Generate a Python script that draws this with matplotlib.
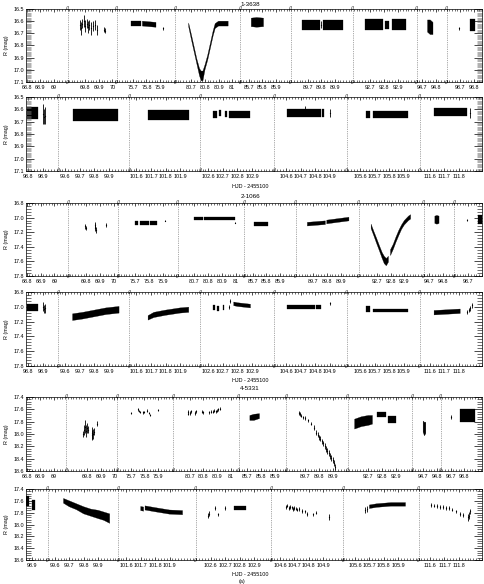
import numpy as np
import matplotlib
matplotlib.use('Agg')
import matplotlib.pyplot as plt
from matplotlib.ticker import MultipleLocator

plt.rcParams['font.family'] = ['Liberation Sans', 'DejaVu Sans']
nan = np.nan

# ---------------- titles / labels ----------------
TITLES = ['1-3638', '2-1066', '4-5331']
XLABEL = 'HJD - 2455100'
YLABEL = 'R (mag)'

# ---------------- segments (x-limits of the broken axes) and tick labels ----------------
SEG_1A = [(68.795, 69.10), (69.67, 70.03), (75.58, 76.01), (80.58, 81.06), (85.64, 86.01),
          (89.575, 90.03), (92.57, 93.04), (94.66, 94.88), (98.60, 98.86)]
TICK_1A = [[68.8, 68.9, 69.0], [69.8, 69.9, 70.0], [75.7, 75.8, 75.9], [80.7, 80.8, 80.9, 81.0],
           [85.7, 85.8, 85.9], [89.7, 89.8, 89.9], [92.7, 92.8, 92.9], [94.7, 94.8], [98.7, 98.8]]
SEG_1B = [(98.786, 99.007), (99.55, 100.04), (101.55, 102.04), (102.545, 103.055),
          (104.52, 105.02), (105.51, 106.01), (111.53, 111.96)]
TICK_1B = [[98.8, 98.9], [99.6, 99.7, 99.8, 99.9], [101.6, 101.7, 101.8, 101.9],
           [102.6, 102.7, 102.8, 102.9], [104.6, 104.7, 104.8, 104.9],
           [105.6, 105.7, 105.8, 105.9], [111.6, 111.7, 111.8]]
SEG_2A = SEG_1A[:-1] + [(98.60, 98.80)]
TICK_2A = TICK_1A[:-1] + [[98.7]]
SEG_2B = SEG_1B
TICK_2B = TICK_1B
SEG_4A = [(68.795, 69.09), (69.65, 70.02), (75.60, 76.01), (80.58, 81.06), (85.64, 85.985),
          (89.56, 90.01), (92.55, 93.02), (94.62, 94.83), (98.63, 98.93)]
TICK_4A = TICK_1A
SEG_4B = [(98.86, 99.01), (99.55, 100.04), (101.545, 102.08), (102.495, 103.02),
          (104.54, 105.04), (105.52, 106.04), (111.52, 111.96)]
TICK_4B = [[98.9]] + TICK_1B[1:]

YLIM = [(16.5, 17.1), (16.8, 17.8), (17.4, 18.6)]
YMAJ = [0.1, 0.2, 0.2]
YMIN = [0.01, 0.04, 0.04]

# ---------------- data: dense bands (time, centre mag, half-spread), NaN splits clusters --------
# star 1-3638, first row
T_1A = [75.69, 75.75, 75.76, nan, 75.77, 75.82, 75.87, nan,
        80.68, 80.70, 80.72, 80.74, 80.76, 80.772, 80.785, 80.80, 80.82, 80.84, 80.86, 80.875,
        80.90, 80.93, 80.97, nan,
        85.72, 85.76, 85.81, nan, 89.66, 89.72, 89.79, nan, 89.81, 89.90, 89.96, nan,
        92.66, 92.75, 92.79, nan, 92.81, 92.84, nan, 92.86, 92.92, 92.96, nan,
        94.74, 94.76, 94.78, nan, 98.77, 98.79, 98.81]
M_1A = [16.62, 16.62, 16.62, nan, 16.62, 16.625, 16.63, nan,
        16.63, 16.73, 16.83, 16.93, 17.02, 17.05, 17.05, 16.98, 16.90, 16.80, 16.70, 16.64,
        16.62, 16.62, 16.62, nan,
        16.61, 16.61, 16.61, nan, 16.63, 16.63, 16.63, nan, 16.63, 16.63, 16.63, nan,
        16.63, 16.63, 16.63, nan, 16.63, 16.63, nan, 16.63, 16.63, 16.63, nan,
        16.64, 16.65, 16.66, nan, 16.63, 16.63, 16.63]
E_1A = [0.02, 0.02, 0.02, nan, 0.02, 0.02, 0.02, nan,
        0.015, 0.02, 0.02, 0.02, 0.03, 0.04, 0.04, 0.02, 0.02, 0.02, 0.02, 0.02,
        0.02, 0.02, 0.02, nan,
        0.035, 0.04, 0.035, nan, 0.04, 0.04, 0.04, nan, 0.04, 0.04, 0.04, nan,
        0.045, 0.045, 0.045, nan, 0.035, 0.035, nan, 0.045, 0.045, 0.045, nan,
        0.05, 0.06, 0.05, nan, 0.05, 0.05, 0.05]
PT_1A = [69.76, 69.77, 69.78, 69.79, 69.80, 69.81, 69.82, 69.83, 69.845, 69.855, 69.87, 69.885,
         69.94, 69.945, 75.92, 89.80, 98.69]
PM_1A = [16.63, 16.66, 16.62, 16.60, 16.64, 16.62, 16.65, 16.63, 16.66, 16.64, 16.63, 16.67,
         16.67, 16.68, 16.66, 16.63, 16.66]
PE_1A = [0.04, 0.05, 0.04, 0.05, 0.05, 0.04, 0.05, 0.04, 0.05, 0.04, 0.04, 0.04,
         0.02, 0.02, 0.01, 0.03, 0.01]

# star 1-3638, second row
T_1B = [98.79, 98.83, 98.87, nan, 99.65, 99.75, 99.85, 99.96, nan, 101.68, 101.80, 101.96, nan,
        102.635, 102.66, nan, 102.67, 102.69, nan, 102.715, 102.73, nan, 102.745, 102.80, 102.89, nan,
        104.61, 104.70, 104.80, 104.84, nan, 104.845, 104.86, nan,
        105.64, 105.67, nan, 105.69, 105.80, 105.93, nan, 111.63, 111.75, 111.86]
M_1B = [16.63, 16.63, 16.63, nan, 16.645, 16.645, 16.645, 16.645, nan, 16.645, 16.645, 16.645, nan,
        16.64, 16.64, nan, 16.63, 16.63, nan, 16.64, 16.64, nan, 16.64, 16.64, 16.64, nan,
        16.63, 16.63, 16.63, 16.63, nan, 16.63, 16.63, nan,
        16.64, 16.64, nan, 16.64, 16.64, 16.64, nan, 16.62, 16.62, 16.62]
E_1B = [0.05, 0.05, 0.05, nan, 0.05, 0.05, 0.05, 0.05, nan, 0.04, 0.04, 0.04, nan,
        0.03, 0.03, nan, 0.025, 0.025, nan, 0.025, 0.025, nan, 0.03, 0.03, 0.03, nan,
        0.03, 0.03, 0.03, 0.03, nan, 0.03, 0.03, nan,
        0.03, 0.03, nan, 0.03, 0.03, 0.03, nan, 0.03, 0.03, 0.03]
PT_1B = [98.905, 98.91, 98.915, 104.73, 104.90, 111.875]
PM_1B = [16.64, 16.66, 16.65, 16.60, 16.63, 16.63]
PE_1B = [0.08, 0.06, 0.07, 0.03, 0.03, 0.04]

# star 2-1066, first row
T_2A = [75.70, 75.72, nan, 75.735, 75.80, nan, 75.81, 75.86, nan,
        80.70, 80.76, nan, 80.77, 80.99, nan, 85.71, 85.76, 85.81, nan,
        89.66, 89.79, nan, 89.80, 89.96, nan,
        92.66, 92.68, 92.70, 92.72, 92.74, 92.755, 92.77, 92.785, nan,
        92.80, 92.82, 92.84, 92.86, 92.88, 92.90, 92.93, 92.945, nan,
        94.74, 94.755, 94.77, nan, 98.77, 98.785, 98.80]
M_2A = [17.07, 17.07, nan, 17.07, 17.07, nan, 17.07, 17.07, nan,
        17.01, 17.01, nan, 17.01, 17.01, nan, 17.09, 17.09, 17.09, nan,
        17.09, 17.07, nan, 17.06, 17.02, nan,
        17.12, 17.22, 17.32, 17.42, 17.52, 17.58, 17.61, 17.57, nan,
        17.48, 17.40, 17.30, 17.21, 17.13, 17.07, 17.01, 16.99, nan,
        17.03, 17.03, 17.03, nan, 17.03, 17.03, 17.03]
E_2A = [0.025, 0.025, nan, 0.025, 0.025, nan, 0.025, 0.025, nan,
        0.025, 0.025, nan, 0.025, 0.025, nan, 0.025, 0.025, 0.025, nan,
        0.025, 0.025, nan, 0.025, 0.025, nan,
        0.03, 0.03, 0.035, 0.035, 0.04, 0.05, 0.05, 0.04, nan,
        0.04, 0.035, 0.035, 0.035, 0.03, 0.03, 0.03, 0.03, nan,
        0.05, 0.06, 0.05, nan, 0.06, 0.06, 0.06]
PT_2A = [69.79, 69.795, 69.86, 69.865, 69.87, 69.94, 75.92, 80.99, 98.69]
PM_2A = [17.12, 17.14, 17.10, 17.14, 17.17, 17.10, 17.04, 17.07, 17.03]
PE_2A = [0.03, 0.03, 0.04, 0.05, 0.04, 0.03, 0.01, 0.01, 0.015]

# star 2-1066, second row
T_2B = [98.79, 98.83, 98.87, nan, 99.65, 99.72, 99.80, 99.88, 99.97, nan,
        101.68, 101.72, 101.80, 101.90, 101.96, nan,
        102.63, 102.645, nan, 102.66, 102.675, nan, 102.70, 102.71, nan, 102.775, 102.80, 102.89, nan,
        104.61, 104.75, 104.80, nan, 104.81, 104.84, nan,
        105.64, 105.67, nan, 105.69, 105.80, 105.93, nan, 111.63, 111.72, 111.81]
M_2B = [17.01, 17.01, 17.01, nan, 17.14, 17.12, 17.09, 17.06, 17.04, nan,
        17.15, 17.11, 17.08, 17.05, 17.04, nan,
        17.01, 17.01, nan, 17.02, 17.02, nan, 17.01, 17.01, nan, 16.96, 16.97, 16.99, nan,
        17.00, 17.00, 17.00, nan, 17.00, 17.00, nan,
        17.03, 17.03, nan, 17.05, 17.05, 17.05, nan, 17.08, 17.07, 17.06]
E_2B = [0.05, 0.05, 0.05, nan, 0.045, 0.045, 0.045, 0.045, 0.045, nan,
        0.03, 0.035, 0.035, 0.035, 0.035, nan,
        0.03, 0.03, nan, 0.03, 0.03, nan, 0.03, 0.03, nan, 0.025, 0.025, 0.025, nan,
        0.025, 0.025, 0.025, nan, 0.025, 0.025, nan,
        0.04, 0.04, nan, 0.025, 0.025, 0.025, nan, 0.03, 0.03, 0.03]
PT_2B = [98.905, 98.91, 98.915, 102.745, 102.75, 104.90, 111.86, 111.87, 111.88, 111.89]
PM_2B = [17.00, 17.03, 17.02, 17.00, 16.92, 16.95, 17.07, 17.04, 17.02, 16.98]
PE_2B = [0.06, 0.06, 0.06, 0.03, 0.03, 0.02, 0.03, 0.03, 0.03, 0.03]

# star 4-5331, first row
T_4A = [85.72, 85.75, 85.79, nan,
        92.60, 92.65, 92.70, 92.73, nan, 92.76, 92.79, 92.83, nan, 92.84, 92.87, 92.90, nan,
        94.70, 94.71, 94.72, nan, 98.77, 98.80, 98.83, 98.86, 98.88]
M_4A = [17.74, 17.73, 17.71, nan,
        17.84, 17.80, 17.78, 17.77, nan, 17.68, 17.68, 17.68, nan, 17.76, 17.76, 17.76, nan,
        17.88, 17.92, 17.90, nan, 17.70, 17.70, 17.70, 17.70, 17.70]
E_4A = [0.04, 0.05, 0.04, nan,
        0.08, 0.08, 0.08, 0.07, nan, 0.04, 0.04, 0.04, nan, 0.06, 0.06, 0.06, nan,
        0.09, 0.11, 0.09, nan, 0.10, 0.10, 0.10, 0.10, 0.10]
PT_4A = [69.77, 69.78, 69.785, 69.79, 69.80, 69.81, 69.835, 69.84, 69.845, 69.85, 69.87,
         75.70, 75.755, 75.76, 75.77, 75.79, 75.80, 75.82, 75.83, 75.84, 75.90,
         80.685, 80.69, 80.70, 80.71, 80.74, 80.75, 80.79, 80.80, 80.84, 80.855, 80.87, 80.88,
         80.89, 80.90, 80.91, 80.92,
         89.65, 89.66, 89.67, 89.68, 89.70, 89.72, 89.74, 89.76, 89.78, 89.79, 89.80, 89.81,
         89.82, 89.83, 89.84, 89.85, 89.86, 89.87, 89.88, 89.89, 89.90, 89.91, 89.92,
         98.70]
PM_4A = [18.00, 17.93, 17.88, 17.95, 17.90, 17.93, 18.02, 17.98, 18.00, 17.96, 17.83,
         17.66, 17.60, 17.63, 17.64, 17.65, 17.64, 17.62, 17.66, 17.69, 17.61,
         17.67, 17.64, 17.66, 17.63, 17.66, 17.63, 17.64, 17.65, 17.65, 17.64, 17.64, 17.62,
         17.63, 17.62, 17.60, 17.59,
         17.66, 17.67, 17.70, 17.73, 17.74, 17.78, 17.83, 17.90, 17.98, 18.01, 18.05, 18.08,
         18.12, 18.15, 18.19, 18.24, 18.28, 18.31, 18.35, 18.39, 18.42, 18.47, 18.53,
         17.72]
PE_4A = [0.05, 0.08, 0.10, 0.10, 0.08, 0.06, 0.08, 0.10, 0.08, 0.05, 0.04,
         0.02, 0.02, 0.02, 0.02, 0.02, 0.02, 0.02, 0.02, 0.02, 0.02,
         0.025, 0.025, 0.025, 0.025, 0.025, 0.025, 0.025, 0.025, 0.025, 0.025, 0.025, 0.025,
         0.025, 0.025, 0.025, 0.025,
         0.03, 0.03, 0.03, 0.03, 0.03, 0.03, 0.03, 0.04, 0.04, 0.04, 0.04, 0.04,
         0.04, 0.04, 0.05, 0.05, 0.05, 0.05, 0.05, 0.05, 0.05, 0.05, 0.05,
         0.03]

# star 4-5331, second row
T_4B = [98.86, 98.87, 98.88, nan, 98.90, 98.91, 98.92, nan,
        99.66, 99.70, 99.75, 99.80, 99.85, 99.90, 99.94, 99.98, nan,
        101.70, 101.72, nan, 101.73, 101.80, 101.90, 101.99, nan,
        102.76, 102.80, 102.845, nan,
        105.70, 105.75, 105.80, 105.85, 105.90, 105.95]
M_4B = [17.60, 17.60, 17.60, nan, 17.67, 17.67, 17.67, nan,
        17.60, 17.65, 17.70, 17.76, 17.80, 17.83, 17.86, 17.90, nan,
        17.73, 17.74, nan, 17.72, 17.75, 17.79, 17.80, nan,
        17.72, 17.72, 17.72, nan,
        17.70, 17.68, 17.67, 17.66, 17.66, 17.66]
E_4B = [0.08, 0.08, 0.08, nan, 0.08, 0.08, 0.08, nan,
        0.04, 0.05, 0.05, 0.06, 0.06, 0.07, 0.07, 0.08, nan,
        0.035, 0.035, nan, 0.035, 0.035, 0.035, 0.035, nan,
        0.03, 0.03, 0.03, nan,
        0.03, 0.03, 0.03, 0.03, 0.03, 0.03]
PT_4B = [102.58, 102.59, 102.63, 102.65, 102.70,
         104.64, 104.65, 104.66, 104.67, 104.68, 104.69, 104.70, 104.71, 104.72, 104.73,
         104.75, 104.77, 104.79, 104.83, 104.85, 104.94,
         105.67, 105.68,
         111.61, 111.63, 111.65, 111.67, 111.69, 111.71, 111.73, 111.75, 111.78, 111.81, 111.83,
         111.86, 111.87, 111.88]
PM_4B = [17.85, 17.82, 17.72, 17.83, 17.72,
         17.70, 17.68, 17.72, 17.70, 17.71, 17.74, 17.72, 17.73, 17.75, 17.74,
         17.77, 17.78, 17.82, 17.83, 17.80, 17.88,
         17.76, 17.74,
         17.67, 17.68, 17.69, 17.70, 17.70, 17.72, 17.72, 17.75, 17.78, 17.82, 17.84,
         17.88, 17.85, 17.78]
PE_4B = [0.04, 0.04, 0.03, 0.03, 0.03,
         0.03, 0.03, 0.03, 0.03, 0.03, 0.03, 0.03, 0.03, 0.03, 0.03,
         0.03, 0.03, 0.03, 0.03, 0.03, 0.05,
         0.05, 0.05,
         0.03, 0.03, 0.03, 0.03, 0.03, 0.03, 0.03, 0.03, 0.03, 0.03, 0.03,
         0.06, 0.06, 0.05]

# ---------------- figure ----------------
W, H = 484, 584
fig = plt.figure(figsize=(W / 100, H / 100), dpi=100)
FS = 3.9
X0, X1 = 26, 482


def fmt(v):
    return '%g' % round(v, 3)


def draw_row(top, bot, segs, ticks, star, bands, pts, xlabel=False):
    T, M, E = (np.asarray(a, float) for a in bands)
    PT, PM, PE = (np.asarray(a, float) for a in pts)
    total = sum(b - a for a, b in segs)
    x = X0
    n = len(segs)
    for i, ((a, b), tk) in enumerate(zip(segs, ticks)):
        w = (b - a) / total * (X1 - X0)
        ax = fig.add_axes([x / W, 1 - bot / H, w / W, (bot - top) / H])
        ax.set_facecolor('none')
        ax.fill_between(T, M - E, M + E, color='k', lw=0.2, edgecolor='k')
        ax.errorbar(PT, PM, yerr=PE, fmt='s', ms=0.8, color='k', ecolor='k',
                    elinewidth=0.6, capsize=0, mew=0)
        ax.set_xlim(a, b)
        lo, hi = YLIM[star]
        ax.set_ylim(hi, lo)
        ax.set_xticks(tk)
        ax.set_xticklabels([fmt(v) for v in tk], fontsize=FS)
        ax.xaxis.set_minor_locator(MultipleLocator(0.02))
        ax.yaxis.set_major_locator(MultipleLocator(YMAJ[star]))
        ax.yaxis.set_minor_locator(MultipleLocator(YMIN[star]))
        ax.tick_params(axis='x', which='major', direction='in', top=True, bottom=True,
                       length=2.5, width=0.5, pad=2.5)
        ax.tick_params(axis='x', which='minor', direction='in', top=True, bottom=True,
                       length=1.2, width=0.4)
        ax.tick_params(axis='y', which='major', direction='in', left=(i == 0), right=(i == n - 1),
                       labelleft=(i == 0), labelright=False, length=6, width=0.5,
                       labelsize=FS, pad=1.5)
        ax.tick_params(axis='y', which='minor', direction='in', left=(i == 0), right=(i == n - 1),
                       length=3.5, width=0.4, color='0.45' if star == 0 else 'k')
        if i == 0:
            ax.yaxis.set_major_formatter(plt.FuncFormatter(lambda v, p: '%.1f' % v))
            ax.set_ylabel(YLABEL, fontsize=FS, labelpad=3)
        for s in ('top', 'bottom'):
            ax.spines[s].set_linewidth(0.5)
        ax.spines['left'].set_visible(i == 0)
        ax.spines['right'].set_visible(i == n - 1)
        ax.spines['left'].set_linewidth(0.5)
        ax.spines['right'].set_linewidth(0.5)
        if i > 0:
            ax.axvline(a, color='0.35', ls=(0, (1, 1.6)), lw=0.5)
            for yy in (0.0, 1.0):
                ax.text(a, yy, '//', transform=ax.get_xaxis_transform(), ha='center',
                        va='center', fontsize=FS, clip_on=False)
        x += w
    if xlabel:
        fig.text(250 / W, 1 - (bot + 15) / H, XLABEL, ha='center', va='center', fontsize=FS)


draw_row(9, 82, SEG_1A, TICK_1A, 0, (T_1A, M_1A, E_1A), (PT_1A, PM_1A, PE_1A))
draw_row(97, 171, SEG_1B, TICK_1B, 0, (T_1B, M_1B, E_1B), (PT_1B, PM_1B, PE_1B), xlabel=True)
draw_row(203, 276, SEG_2A, TICK_2A, 1, (T_2A, M_2A, E_2A), (PT_2A, PM_2A, PE_2A))
draw_row(292, 366, SEG_2B, TICK_2B, 1, (T_2B, M_2B, E_2B), (PT_2B, PM_2B, PE_2B), xlabel=True)
draw_row(397, 471, SEG_4A, TICK_4A, 2, (T_4A, M_4A, E_4A), (PT_4A, PM_4A, PE_4A))
draw_row(489, 560, SEG_4B, TICK_4B, 2, (T_4B, M_4B, E_4B), (PT_4B, PM_4B, PE_4B), xlabel=True)

for ttl, yp in zip(TITLES, (4, 196, 389)):
    fig.text(250 / W, 1 - yp / H, ttl, ha='center', va='center', fontsize=FS + 0.6)
fig.text(242 / W, 1 - 581 / H, '(a)', ha='center', va='center', fontsize=FS)

fig.savefig('out.png', dpi=100)
